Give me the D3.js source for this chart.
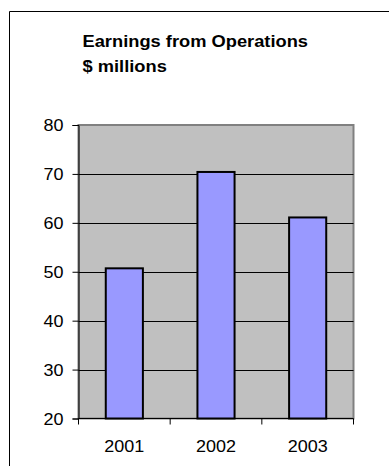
<!DOCTYPE html>
<html><head><meta charset="utf-8">
<script src="https://cdn.jsdelivr.net/npm/d3@7"></script>
<style>
html,body{margin:0;padding:0;background:#fff;overflow:hidden;}
svg{display:block;}
text{font-family:Arial,"Liberation Sans",sans-serif;fill:#000;}
</style></head>
<body>
<svg id="chart" width="389" height="466"></svg>
<script>
const categories = ["2001", "2002", "2003"];
const earnings = [50.7, 70.4, 61.1];
const yTicks = [20, 30, 40, 50, 60, 70, 80];
const titleLines = ["Earnings from Operations", "$ millions"];

const svg = d3.select("#chart");
const pLeft = 78.5, pRight = 353.5, pTop = 125, pBottom = 418.5;
const FS = 18, SY = 0.9;

// outer chart border (only top and left visible)
svg.append("line").attr("x1", 9.5).attr("x2", 389).attr("y1", 11.5).attr("y2", 11.5).attr("stroke", "#000");
svg.append("line").attr("x1", 9.5).attr("x2", 9.5).attr("y1", 11.5).attr("y2", 466).attr("stroke", "#000");

const x = d3.scaleBand().domain(categories).range([pLeft, pRight])
  .paddingInner(0.595).paddingOuter(0.2975);
const y = d3.scaleLinear().domain([20, 80]).range([pBottom, pTop]);

// plot area
svg.append("rect").attr("x", pLeft).attr("y", pTop).attr("width", pRight - pLeft).attr("height", pBottom - pTop)
  .attr("fill", "#C0C0C0").attr("stroke", "#808080").attr("stroke-width", 2);

// gridlines
svg.append("g").selectAll("line").data(yTicks.filter(d => d > 20 && d < 80)).join("line")
  .attr("x1", pLeft).attr("x2", pRight).attr("y1", d => Math.round(y(d)) + 0.5).attr("y2", d => Math.round(y(d)) + 0.5)
  .attr("stroke", "#000").attr("stroke-width", 1);

// bars
svg.append("g").selectAll("rect").data(categories).join("rect")
  .attr("x", d => x(d)).attr("width", x.bandwidth())
  .attr("y", (d, i) => y(earnings[i])).attr("height", (d, i) => y(20) - y(earnings[i]))
  .attr("fill", "#9999FF").attr("stroke", "#000").attr("stroke-width", 2);

// y axis
const yAxis = d3.axisLeft(y).tickValues(yTicks).tickSize(6).tickFormat(d => "");
const gy = svg.append("g").attr("transform", `translate(${pLeft},0)`).call(yAxis);
gy.select(".domain").attr("stroke", "#000");
gy.selectAll(".tick line").attr("stroke", "#000");
svg.append("g").selectAll("text").data(yTicks).join("text")
  .attr("transform", d => `translate(63.5,${y(d) + 6}) scale(1,${SY})`)
  .attr("text-anchor", "end").attr("font-size", FS).text(d => d);

// x axis: ticks at band boundaries
const boundaries = categories.map(c => x(c) - x.step() * x.paddingInner() / 2).concat([pRight]);
svg.append("line").attr("x1", pLeft).attr("x2", pRight).attr("y1", pBottom).attr("y2", pBottom)
  .attr("stroke", "#000").attr("stroke-width", 1);
svg.append("g").selectAll("line").data(boundaries).join("line")
  .attr("x1", d => d).attr("x2", d => d).attr("y1", pBottom).attr("y2", pBottom + 6)
  .attr("stroke", "#000");
svg.append("g").selectAll("text").data(categories).join("text")
  .attr("transform", d => `translate(${x(d) + x.bandwidth() / 2},451.7) scale(1,${SY})`)
  .attr("text-anchor", "middle").attr("font-size", FS).text(d => d);

// title
svg.append("g").selectAll("text").data(titleLines).join("text")
  .attr("transform", (d, i) => `translate(82.5,${46.7 + i * 25}) scale(1,${SY})`)
  .attr("font-size", 18.3).attr("font-weight", "bold").text(d => d);
</script>
</body></html>
